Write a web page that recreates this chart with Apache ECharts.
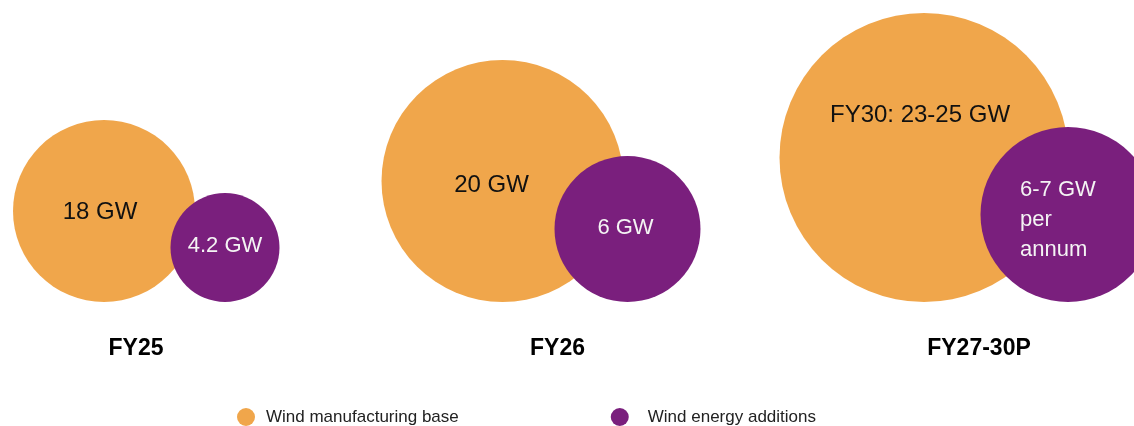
<!DOCTYPE html>
<html>
<head>
<meta charset="utf-8">
<script src="https://cdn.jsdelivr.net/npm/echarts@6/dist/echarts.min.js"></script>
<style>
  html, body { margin: 0; padding: 0; background: #ffffff; }
  #chart { width: 1134px; height: 426px; }
</style>
</head>
<body>
<div id="chart"></div>
<script>
// Wind capacity outlook: manufacturing base vs. annual energy additions
const categories = ['FY25', 'FY26', 'FY27-30P'];
const seriesNames = ['Wind manufacturing base', 'Wind energy additions'];

// GW (ranges taken at their midpoint)
const manufacturingBase = [18, 20, 24];
const energyAdditions = [4.2, 6, 6.5];

const manufacturingLabels = ['18 GW', '20 GW', 'FY30: 23-25 GW'];
const additionsLabels = ['4.2 GW', '6 GW', '6-7 GW\nper\nannum'];

// ---- layout / styling ----
const FONT = "'Liberation Sans', Arial, Helvetica, sans-serif";
const ORANGE = '#F0A64B';
const PURPLE = '#7A1F7D';

// bubble diameters (px) and horizontal placement relative to each category
const baseLayout = {
  diameter: [182, 242, 289],
  dx: [-32, -55, -55],
  labelOffset: [[-4, 1], [-11, 4], [-4, -42]]
};
const addLayout = {
  diameter: [109, 146, 175],
  dx: [89, 70, 89],
  labelOffset: [[0, -2], [-2, -1], [-48, 5]],
  labelAlign: ['center', 'center', 'left']
};

function bubbleData(values, labels, layout, textColor, fontSize) {
  return values.map((v, i) => ({
    name: categories[i],
    value: [i, 0, v],
    symbolSize: layout.diameter[i],
    symbolOffset: [layout.dx[i], -layout.diameter[i] / 2],
    label: {
      show: true,
      position: 'inside',
      formatter: labels[i],
      color: textColor,
      fontFamily: FONT,
      fontSize: fontSize,
      lineHeight: 30,
      align: layout.labelAlign ? layout.labelAlign[i] : 'center',
      offset: layout.labelOffset[i]
    }
  }));
}

const chart = echarts.init(document.getElementById('chart'), null, { renderer: 'canvas' });

chart.setOption({
  backgroundColor: '#ffffff',
  animation: false,
  grid: { left: 136, right: 155, top: 10, bottom: 124, containLabel: false },
  xAxis: {
    type: 'category',
    data: categories,
    boundaryGap: false,
    axisLine: { show: false },
    axisTick: { show: false },
    splitLine: { show: false },
    axisLabel: {
      margin: 35,
      color: '#000000',
      fontFamily: FONT,
      fontWeight: 'bold',
      fontSize: 23
    }
  },
  yAxis: {
    type: 'value',
    min: 0,
    max: 1,
    show: false
  },
  legend: {
    data: [
      { name: seriesNames[0], textStyle: { padding: [0, 0, 14, 6] } },
      { name: seriesNames[1], textStyle: { padding: [0, 0, 14, 14] } }
    ],
    left: 237,
    top: 408,
    padding: 0,
    icon: 'circle',
    itemWidth: 18,
    itemHeight: 18,
    itemGap: 152,
    textStyle: {
      color: '#222222',
      fontFamily: FONT,
      fontSize: 17
    }
  },
  series: [
    {
      name: seriesNames[0],
      type: 'scatter',
      symbol: 'circle',
      itemStyle: { color: ORANGE, opacity: 1 },
      data: bubbleData(manufacturingBase, manufacturingLabels, baseLayout, '#111111', 24),
      z: 2
    },
    {
      name: seriesNames[1],
      type: 'scatter',
      symbol: 'circle',
      itemStyle: { color: PURPLE, opacity: 1 },
      data: bubbleData(energyAdditions, additionsLabels, addLayout, '#F4F4F4', 22),
      z: 3
    }
  ]
});
</script>
</body>
</html>
